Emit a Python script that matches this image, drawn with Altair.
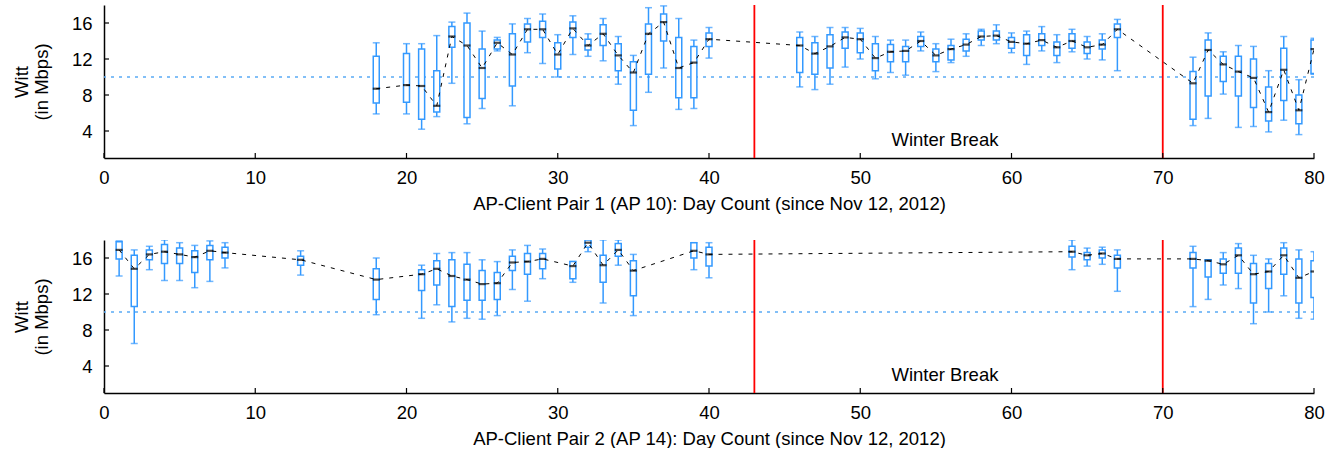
import altair as alt
import pandas as pd

# ---------------- data ----------------
days1 = [18, 20, 21, 22, 23, 24, 25, 26, 27, 28, 29, 30, 31, 32, 33, 34, 35, 36, 37, 38, 39, 40,
         46, 47, 48, 49, 50, 51, 52, 53, 54, 55, 56, 57, 58, 59, 60, 61, 62, 63, 64, 65, 66, 67,
         72, 73, 74, 75, 76, 77, 78, 79, 80]
wlo1 = [5.9, 5.9, 4.2, 5.6, 9.3, 4.8, 6.5, 12.9, 6.8, 12.7, 11.5, 10.0, 12.5, 12.3, 11.8, 9.2, 4.6, 8.3, 11.0, 6.4, 6.5, 12.1,
        8.9, 8.6, 9.2, 11.1, 12.0, 9.8, 10.5, 10.2, 12.9, 10.6, 11.6, 12.3, 13.5, 13.7, 12.7, 11.4, 12.9, 11.6, 12.8, 12.0, 11.9, 10.7,
        4.6, 5.4, 8.1, 4.4, 4.5, 3.9, 5.2, 3.6, 10.3]
q1_1 = [7.1, 7.2, 5.3, 6.1, 13.3, 5.5, 7.6, 13.1, 9.0, 13.9, 14.4, 10.9, 14.4, 13.0, 13.5, 10.7, 6.3, 10.3, 14.0, 7.7, 7.7, 13.4,
        10.5, 10.3, 11.0, 13.2, 12.7, 10.7, 11.7, 11.7, 13.4, 11.7, 11.9, 12.9, 14.1, 14.1, 13.2, 12.4, 13.5, 12.4, 13.2, 12.6, 13.1, 14.4,
        5.3, 7.9, 9.5, 7.9, 6.6, 5.1, 7.4, 4.8, 10.4]
med1 = [8.7, 9.1, 9.0, 6.8, 14.5, 13.5, 11.0, 13.8, 12.5, 15.3, 15.3, 12.5, 15.4, 13.5, 14.8, 12.4, 10.5, 14.8, 16.1, 11.0, 11.6, 14.2,
        13.5, 12.6, 13.4, 14.4, 14.2, 12.1, 12.8, 12.9, 14.0, 12.4, 13.1, 13.6, 14.5, 14.6, 13.9, 13.7, 14.1, 13.3, 14.0, 13.3, 13.6, 15.3,
        9.3, 13.0, 11.4, 10.6, 9.9, 6.1, 10.8, 6.3, 13.1]
q3_1 = [12.3, 12.6, 13.1, 10.7, 15.6, 16.0, 13.1, 14.1, 14.8, 15.9, 16.2, 13.8, 16.1, 14.2, 15.8, 13.7, 11.7, 15.9, 17.0, 14.4, 13.4, 14.9,
        14.4, 13.8, 14.7, 15.0, 14.9, 13.7, 13.6, 13.4, 14.5, 13.1, 13.5, 14.2, 15.1, 15.1, 14.4, 14.7, 14.8, 13.9, 14.8, 13.9, 14.1, 15.9,
        10.6, 14.1, 12.3, 12.3, 12.0, 8.9, 13.2, 8.0, 14.1]
whi1 = [13.8, 13.7, 13.7, 14.6, 16.1, 17.1, 15.1, 14.4, 15.9, 16.5, 17.0, 14.7, 16.8, 14.8, 16.5, 14.5, 12.4, 17.7, 17.9, 16.5, 14.1, 15.5,
        15.0, 14.5, 15.5, 15.5, 15.4, 14.5, 14.1, 14.1, 15.0, 13.7, 14.2, 14.8, 15.3, 15.8, 14.9, 15.1, 15.6, 14.7, 15.3, 14.5, 14.8, 16.4,
        12.2, 14.9, 12.8, 13.5, 13.4, 10.7, 14.5, 9.7, 14.3]

days2 = [1, 2, 3, 4, 5, 6, 7, 8, 13, 18,
         21, 22, 23, 24, 25, 26, 27, 28, 29, 31, 32, 33, 34, 35,
         39, 40, 64, 65, 66, 67,
         72, 73, 74, 75, 76, 77, 78, 79, 80]
wlo2 = [14.0, 6.5, 14.7, 13.5, 13.5, 12.7, 13.4, 14.9, 14.1, 9.7,
        9.3, 10.8, 8.9, 9.3, 9.2, 9.6, 12.5, 11.2, 13.7, 13.3, 16.7, 11.0, 15.2, 9.6,
        14.7, 13.8, 14.7, 15.1, 15.3, 12.3,
        10.6, 11.4, 13.0, 12.6, 8.7, 10.0, 11.8, 9.3, 9.2]
q1_2 = [15.9, 10.6, 15.8, 15.4, 15.4, 14.4, 15.8, 16.0, 15.2, 11.4,
        12.4, 13.0, 10.6, 11.3, 11.3, 11.4, 14.6, 14.2, 14.8, 13.7, 17.2, 13.3, 16.2, 11.8,
        16.0, 15.1, 16.1, 15.8, 16.0, 14.9,
        14.9, 13.9, 14.3, 14.3, 11.0, 12.6, 14.2, 11.0, 11.6]
med2 = [16.9, 14.8, 16.4, 16.7, 16.4, 16.1, 16.8, 16.6, 15.8, 13.6,
        14.2, 14.8, 14.0, 13.6, 13.1, 13.2, 15.5, 15.6, 15.9, 15.1, 17.7, 15.2, 16.9, 14.6,
        16.8, 16.4, 16.7, 16.3, 16.5, 15.9,
        15.9, 15.7, 15.3, 16.3, 14.2, 14.5, 16.3, 13.8, 14.5]
q3_2 = [17.8, 16.3, 16.9, 17.5, 17.1, 16.8, 17.4, 17.2, 16.2, 14.8,
        14.7, 15.7, 15.8, 15.3, 14.6, 14.4, 16.2, 16.5, 16.5, 15.6, 18.0, 16.3, 17.6, 15.7,
        17.7, 17.2, 17.3, 16.6, 16.9, 16.3,
        16.6, 15.8, 15.9, 17.1, 15.4, 15.4, 17.1, 15.9, 15.7]
whi2 = [17.9, 16.9, 17.3, 18.0, 17.7, 17.4, 17.9, 17.7, 16.8, 16.0,
        15.2, 16.5, 16.6, 16.6, 15.8, 15.6, 16.9, 17.4, 17.0, 15.6, 18.0, 18.0, 18.0, 16.4,
        17.7, 17.7, 18.0, 17.1, 17.2, 16.9,
        17.3, 15.8, 16.6, 17.6, 16.3, 15.9, 17.7, 16.9, 16.7]

break_days = [43, 70]
threshold = 10
x_ticks = [0, 10, 20, 30, 40, 50, 60, 70, 80]
y_ticks = [4, 8, 12, 16]
x_titles = ["AP-Client Pair 1 (AP 10): Day Count (since Nov 12, 2012)",
            "AP-Client Pair 2 (AP 14): Day Count (since Nov 12, 2012)"]
y_title = ["Witt", "(in Mbps)"]
note_text = ["Winter Break"]
note_x = [55.6]
note_y = [3.0]

# ---------------- styling ----------------
FONT = "Liberation Sans"
FS = 18.5
BLUE = "#3399ff"
LIGHTBLUE = "#5aaaf5"
W, H = 1210, 153

xscale = alt.Scale(domain=[0, 80], nice=False, zero=False, padding=0)
yscale = alt.Scale(domain=[1, 18], nice=False, zero=False, padding=0)
YAX = alt.Axis(values=y_ticks, format="d", tickSize=0, labelPadding=12,
               titlePadding=20, titleLineHeight=20)


def panel(days, wlo, q1, med, q3, whi, xtitle):
    XAX = alt.Axis(values=x_ticks, format="d", labelFlush=False, tickSize=0,
                   labelPadding=10, titlePadding=8)

    def X(f):
        return alt.X(f, type="quantitative", scale=xscale, axis=XAX, title=xtitle)

    def Y(f):
        return alt.Y(f, type="quantitative", scale=yscale, axis=YAX, title=y_title)

    df = pd.DataFrame({"day": days, "wlo": wlo, "q1": q1, "med": med, "q3": q3, "whi": whi})
    br = pd.DataFrame({"day": break_days})
    th = pd.DataFrame({"med": [threshold]})
    xt = pd.DataFrame({"day": x_ticks})
    yt = pd.DataFrame({"med": y_ticks})
    nt = pd.DataFrame({"day": note_x, "med": note_y, "label": note_text})

    base = alt.Chart(df)

    thr = alt.Chart(th).mark_rule(color=LIGHTBLUE, strokeDash=[3, 5], strokeWidth=1.5).encode(
        y=Y("med"))
    red = alt.Chart(br).mark_rule(color="#ff0000", strokeWidth=1.8).encode(x=X("day"))
    whisk = base.mark_rule(color=BLUE, strokeWidth=1.5, clip=True).encode(
        x=X("day"), y=Y("wlo"), y2="whi:Q")
    cap_hi = base.mark_tick(color=BLUE, orient="horizontal", size=7, thickness=1.5, clip=True).encode(
        x=X("day"), y=Y("whi"))
    cap_lo = base.mark_tick(color=BLUE, orient="horizontal", size=7, thickness=1.5, clip=True).encode(
        x=X("day"), y=Y("wlo"))
    box = base.mark_bar(fill="white", stroke=BLUE, strokeWidth=1.5, size=6, clip=True).encode(
        x=X("day"), y=Y("q1"), y2="q3:Q")
    line = base.mark_line(color="black", strokeDash=[4, 6], strokeWidth=1, clip=True).encode(
        x=X("day"), y=Y("med"))
    medt = base.mark_tick(color="black", orient="horizontal", size=7, thickness=2.2, clip=True).encode(
        x=X("day"), y=Y("med"))
    txt = alt.Chart(nt).mark_text(font=FONT, fontSize=FS, color="black").encode(
        x=X("day"), y=Y("med"), text="label:N")
    xtk = alt.Chart(xt).mark_rule(color="black", strokeWidth=1.2).encode(
        x=X("day"), y=alt.value(H), y2=alt.value(H - 5))
    ytk = alt.Chart(yt).mark_rule(color="black", strokeWidth=1.2).encode(
        y=Y("med"), x=alt.value(0), x2=alt.value(5))

    return alt.layer(thr, red, whisk, cap_hi, cap_lo, box, line, medt, txt, xtk, ytk).properties(
        width=W, height=H)


p1 = panel(days1, wlo1, q1_1, med1, q3_1, whi1, x_titles[0])
p2 = panel(days2, wlo2, q1_2, med2, q3_2, whi2, x_titles[1])

chart = alt.vconcat(p1, p2, spacing=26).properties(
    padding={"left": 12, "right": 0, "top": 4, "bottom": 0}
).configure_view(stroke=None).configure_axis(
    labelFont=FONT, titleFont=FONT, labelFontSize=FS, titleFontSize=FS,
    titleFontWeight="normal", labelColor="black", titleColor="black",
    domainColor="black", domainWidth=1.5, grid=False
)

chart.save("out.html", embed_options={"renderer": "svg", "actions": False})
